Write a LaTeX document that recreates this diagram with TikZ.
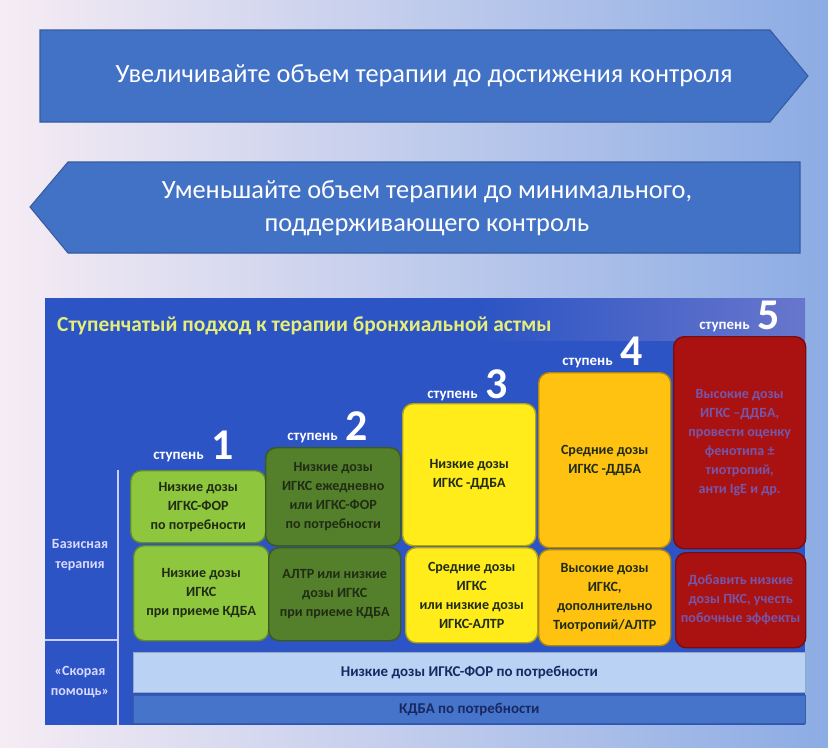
\documentclass[tikz,border=0pt]{standalone}
\usepackage{fontspec}
\setmainfont{Carlito}
\usetikzlibrary{positioning}
\definecolor{bgl}{RGB}{246,236,244}
\definecolor{bgr}{RGB}{140,172,228}
\definecolor{arrowblue}{RGB}{66,114,198}
\definecolor{panelblue}{RGB}{44,84,196}
\definecolor{panelhaze}{RGB}{104,118,204}
\definecolor{titleyel}{RGB}{228,238,120}
\definecolor{grnlight}{RGB}{142,198,62}
\definecolor{grndark}{RGB}{84,128,44}
\definecolor{yelbox}{RGB}{255,236,26}
\definecolor{orgbox}{RGB}{255,194,16}
\definecolor{redbox}{RGB}{170,18,18}
\definecolor{redtext}{RGB}{118,86,168}
\definecolor{boxtext}{RGB}{32,44,20}
\definecolor{barlight}{RGB}{186,210,244}
\definecolor{barmid}{RGB}{70,116,202}
\definecolor{navytext}{RGB}{24,40,96}
\tikzset{arrowfill/.style={draw=arrowblue!80!black, fill=arrowblue, line width=0.6pt}}
\tikzset{arrowtext/.style={text=white, align=center, font=\fontsize{15}{19}\selectfont}}
\tikzset{sz/.style 2 args={minimum width=#1*0.02cm, minimum height=#2*0.02cm}}
\tikzset{stepbox/.style={rounded corners=6, draw=#1!70!black, fill=#1, line width=0.8pt, align=center,
    anchor=north west, inner sep=2pt, text=boxtext, font=\bfseries\fontsize{8}{10.8}\selectfont}}
\tikzset{steplbl/.style={text=white, font=\bfseries\fontsize{8.5}{10}\selectfont, anchor=base east, inner sep=0pt}}
\tikzset{stepnum/.style={text=white, font=\bfseries\fontsize{25}{25}\selectfont, anchor=base west, inner sep=0pt}}
\tikzset{sidelbl/.style={text=white!85!blue, align=center, font=\bfseries\fontsize{8}{11}\selectfont}}
\tikzset{bar/.style={draw=#1!80!black, fill=#1, anchor=north west, text=navytext,
    font=\bfseries\fontsize{8.5}{10}\selectfont}}
\begin{document}
\begin{tikzpicture}[x=0.02cm, y=-0.02cm]
  % background
  \shade[left color=bgl, right color=bgr] (0,0) rectangle (828,747);
  \useasboundingbox (0,0) rectangle (828,747);
  % the two arrows
  \draw[arrowfill] (40,30) -- (770,30) -- (808,76) -- (770,122) -- (40,122) -- cycle;
  \node[arrowtext] (up) at (424,76) {Увеличивайте объем терапии до достижения контроля};
  \draw[arrowfill] (68,162) -- (800,162) -- (800,253) -- (68,253) -- (30,207) -- cycle;
  \node[arrowtext] (down) at (427,208) {Уменьшайте объем терапии до минимального,\\ поддерживающего контроль};
  % panel
  \fill[panelblue] (45,298) rectangle (805,725);
  \shade[left color=panelblue, right color=panelhaze] (480,298) rectangle (805,340);
  \node[anchor=west, text=titleyel, font=\bfseries\fontsize{12.2}{14}\selectfont] (title) at (51,326)
    {Ступенчатый подход к терапии бронхиальной астмы};
  \draw[white!80!blue, line width=0.8pt] (118,470) -- (118,725);
  \draw[white!80!blue, line width=0.8pt] (45,640) -- (118,640);
  \node[sidelbl] (basis) at (80,555) {Базисная\\терапия};
  \node[sidelbl] (rescue) at (80,682) {«Скорая\\помощь»};
  % step labels
  \node[steplbl] (l1) at (204,459) {ступень};
  \node[stepnum] (n1) at ([xshift=4pt]l1.base east) {1};
  \node[steplbl] (l2) at (338,440) {ступень};
  \node[stepnum] (n2) at ([xshift=4pt]l2.base east) {2};
  \node[steplbl] (l3) at (478,398) {ступень};
  \node[stepnum] (n3) at ([xshift=4pt]l3.base east) {3};
  \node[steplbl] (l4) at (613,365) {ступень};
  \node[stepnum] (n4) at ([xshift=4pt]l4.base east) {4};
  \node[steplbl] (l5) at (750,329) {ступень};
  \node[stepnum] (n5) at ([xshift=4pt]l5.base east) {5};
  % step boxes
  \node[stepbox=grnlight, sz={135}{72}] (s1a) at (130,470) {Низкие дозы\\ИГКС-ФОР\\по потребности};
  \node[stepbox=grnlight, sz={135}{95}] (s1b) at (133,545) {Низкие дозы\\ИГКС\\при приеме КДБА};
  \node[stepbox=grndark, sz={135}{98}] (s2a) at (265,447) {Низкие дозы\\ИГКС ежедневно\\или ИГКС-ФОР\\по потребности};
  \node[stepbox=grndark, sz={132}{93}] (s2b) at (268,547) {АЛТР или низкие\\дозы ИГКС\\при приеме КДБА};
  \node[stepbox=yelbox, sz={133}{142}] (s3a) at (402,403) {Низкие дозы\\ИГКС -ДДБА};
  \node[stepbox=yelbox, sz={132}{95}] (s3b) at (405,547) {Средние дозы\\ИГКС\\или низкие дозы\\ИГКС-АЛТР};
  \node[stepbox=orgbox, sz={132}{175}] (s4a) at (538,372) {Средние дозы\\ИГКС -ДДБА};
  \node[stepbox=orgbox, sz={132}{96}] (s4b) at (538,549) {Высокие дозы\\ИГКС,\\дополнительно\\Тиотропий/АЛТР};
  \node[stepbox=redbox, text=redtext, sz={132}{212}] (s5a) at (673,336)
    {Высокие дозы\\ИГКС –ДДБА,\\провести оценку\\фенотипа ±\\тиотропий,\\анти IgE и др.};
  \node[stepbox=redbox, text=redtext, sz={130}{95}] (s5b) at (675,552)
    {Добавить низкие\\дозы ПКС, учесть\\побочные эффекты};
  % rescue bars
  \node[bar=barlight, sz={672}{40}] (r1) at (133,652) {Низкие дозы ИГКС-ФОР по потребности};
  \node[bar=barmid, sz={672}{28}] (r2) at (133,695) {КДБА по потребности};
\end{tikzpicture}
\end{document}
